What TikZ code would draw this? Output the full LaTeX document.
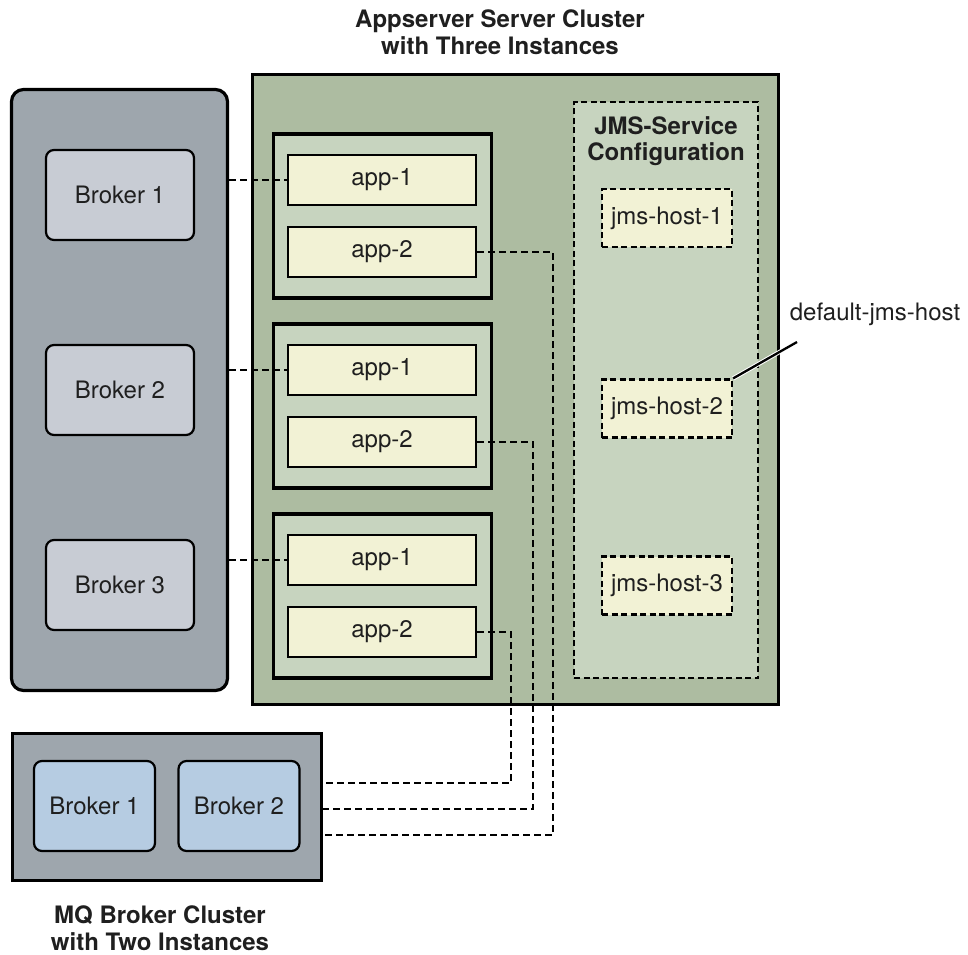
\documentclass[tikz,border=0pt]{standalone}
\usepackage{fontspec}
\setmainfont{TeX Gyre Heros}
\usetikzlibrary{positioning}
\definecolor{clustergray}{HTML}{9EA6AD}
\definecolor{brokergray}{HTML}{C8CCD4}
\definecolor{brokerblue}{HTML}{B6CCE2}
\definecolor{asgreen}{HTML}{ADBCA1}
\definecolor{instgreen}{HTML}{C7D4BF}
\definecolor{appcream}{HTML}{F2F2D5}

\begin{document}
\begin{tikzpicture}[x=1pt,y=-1pt,
      every node/.style={inner sep=0pt, text=black!88, font=\fontsize{24}{26.5}\selectfont},
      title/.style={align=center, font=\bfseries\fontsize{24}{26.5}\selectfont},
      cluster/.style={draw, line width=3.2pt, fill=clustergray},
      broker/.style={draw, line width=2.2pt, rounded corners=8pt, fill=brokergray, minimum width=148pt, minimum height=90pt},
      mqbroker/.style={broker, fill=brokerblue, minimum width=121pt},
      instance/.style={draw, line width=3.2pt, fill=instgreen, minimum width=218pt, minimum height=164pt},
      app/.style={draw, line width=2.2pt, fill=appcream, minimum width=188pt, minimum height=50pt},
      jmsbox/.style={draw, line width=2.2pt, dash pattern=on 6pt off 3.5pt, fill=instgreen},
      host/.style={jmsbox, fill=appcream, minimum width=130pt, minimum height=58pt},
      link/.style={line width=2.3pt, dash pattern=on 7pt off 4pt},
      halo/.style={draw=white, line width=1pt, double=black, double distance=2.3pt}]
      \useasboundingbox (0,0) rectangle (968,954);

      \node[cluster, rounded corners=12pt, minimum width=216pt, minimum height=601pt] (brokers) at (119.5,390) {};
      \foreach \i/\y in {1/195,2/390,3/585}
      \node[broker] (b\i) at (120,\y) {Broker \i};

      \node[cluster, fill=asgreen, minimum width=526pt, minimum height=630pt] (appserver) at (515.5,389.5) {};
      \node[title] (astitle) at (500,32) {Appserver Server Cluster\\with Three Instances};
      \foreach \i/\y in {1/216,2/406,3/596}{
      \node[instance] (inst\i) at (382.5,\y) {};
      \node[app] (app1-\i) at (382,\y-36) {app-1};
      \node[app] (app2-\i) at (382,\y+36) {app-2};
      }

      \node[jmsbox, minimum width=184pt, minimum height=576pt] (jms) at (666,390) {};
      \node[title] (jmstitle) at (666,141) {JMS-Service\\Configuration};
      \foreach \i/\y in {1/218,2/408.5,3/585.5}
      \node[host] (host\i) at (667,\y) {jms-host-\i};

      \node (deflabel) at (875,314) {default-jms-host};
      \coordinate (lead) at (797,342);
      \draw[halo] (lead) -- (host2.north east);

      \node[cluster, minimum width=309pt, minimum height=147pt] (mq) at (167,807) {};
      \node[mqbroker] (mq1) at (94.5,806) {Broker 1};
      \node[mqbroker] (mq2) at (239,806) {Broker 2};
      \node[title] (mqtitle) at (160,928) {MQ Broker Cluster\\with Two Instances};

      \foreach \i in {1,2,3}
      \draw[link] (brokers.east |- app1-\i.west) -- (app1-\i.west);
      \foreach \i/\x/\y in {1/553/835,2/533/809,3/511/783}
      \draw[link] (app2-\i.east) -| (\x,\y) -- (mq.east |- 0,\y);
\end{tikzpicture}
\end{document}
